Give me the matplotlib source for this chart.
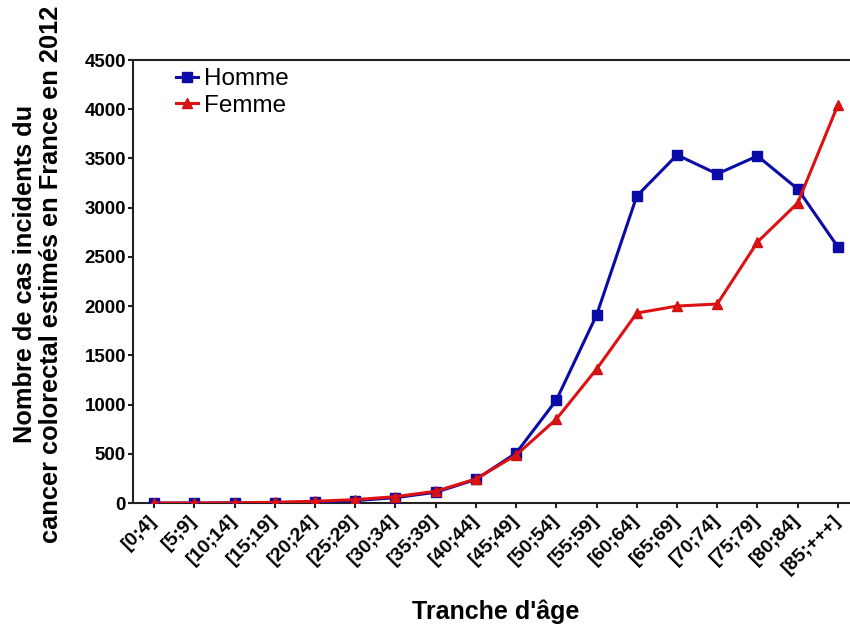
import matplotlib
matplotlib.use('Agg')
import matplotlib.pyplot as plt

# Data
age_groups = ['[0;4]', '[5;9]', '[10;14]', '[15;19]', '[20;24]', '[25;29]',
              '[30;34]', '[35;39]', '[40;44]', '[45;49]', '[50;54]', '[55;59]',
              '[60;64]', '[65;69]', '[70;74]', '[75;79]', '[80;84]', '[85;+++]']
homme = [0, 0, 2, 5, 10, 25, 55, 110, 240, 508, 1046, 1910,
         3119, 3536, 3343, 3526, 3190, 2601]
femme = [0, 0, 3, 8, 18, 35, 65, 120, 245, 488, 853, 1361,
         1930, 2001, 2022, 2652, 3048, 4044]
y_ticks = [0, 500, 1000, 1500, 2000, 2500, 3000, 3500, 4000, 4500]

plt.rcParams['font.family'] = ['Liberation Sans', 'DejaVu Sans']

fig = plt.figure(figsize=(8.5, 6.32), dpi=100)
ax = fig.add_axes([0.1565, 0.204, 0.8435, 0.701])

x = list(range(len(age_groups)))
ax.plot(x, homme, '-s', color='#0a0aa8', linewidth=2.2, markersize=6.5,
        markeredgecolor='#0a0aa8', label='Homme', zorder=3)
ax.plot(x, femme, '-^', color='#dd1111', linewidth=2.2, markersize=7,
        markeredgecolor='#cc1111', label='Femme', zorder=4)

ax.set_xlim(-0.525, 17.3)
ax.set_ylim(0, 4500)
ax.set_yticks(y_ticks)
ax.set_xticks(x)
ax.set_xticklabels(age_groups, rotation=45, ha='right', va='center',
                   rotation_mode='anchor', fontsize=14, fontweight='bold')
for lbl in ax.get_yticklabels():
    lbl.set_fontsize(13.5)
    lbl.set_fontweight('bold')

ax.spines['right'].set_visible(False)
for side in ['left', 'bottom', 'top']:
    ax.spines[side].set_linewidth(1.5)
    ax.spines[side].set_color('#222222')
ax.tick_params(axis='both', width=1.5, length=3.6, color='#222222', pad=1.5)
ax.tick_params(axis='x', pad=7)

ax.set_xlabel("Tranche d'âge", fontsize=18, fontweight='bold')
ax.xaxis.set_label_coords(0.506, -0.246)
ax.xaxis.label.set_va('center')
ax.set_ylabel('Nombre de cas incidents du\ncancer colorectal estimés en France en 2012',
              fontsize=18.3, fontweight='bold', linespacing=1.15)
ax.yaxis.set_label_coords(-0.1325, 0.517)
ax.yaxis.label.set_va('center')

ax.legend(loc='upper left', bbox_to_anchor=(0.06, 0.981), frameon=False,
          fontsize=17.5, handlelength=0.9, handletextpad=0.25, labelspacing=0.17,
          borderpad=0, borderaxespad=0)

plt.savefig('out.png', dpi=100)
plt.close()
